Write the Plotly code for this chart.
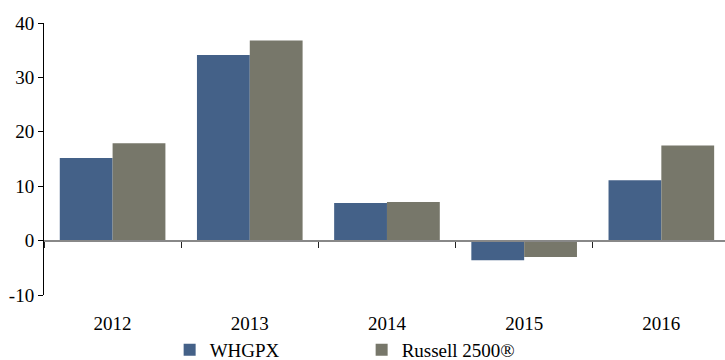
import plotly.graph_objects as go

years = ["2012", "2013", "2014", "2015", "2016"]
whgpx = [15.2, 34.1, 6.9, -3.6, 11.1]
russell = [17.9, 36.8, 7.1, -3.0, 17.5]
series_names = ["WHGPX", "Russell 2500®"]
y_ticks = [-10, 0, 10, 20, 30, 40]
y_tick_text = ["-10", "0", "10", "20", "30", "40"]

FONT = "Times New Roman, Liberation Serif, serif"
FS = 19

fig = go.Figure()
fig.add_trace(go.Bar(x=years, y=whgpx, name=series_names[0], marker_color="#446188",
                     marker_line_width=0))
fig.add_trace(go.Bar(x=years, y=russell, name=series_names[1], marker_color="#77776A",
                     marker_line_width=0))
# invisible helper trace so the zero-line axis (with boundary ticks) is drawn
fig.add_trace(go.Scatter(x=years, y=whgpx, xaxis="x2", mode="markers",
                         marker=dict(opacity=0), hoverinfo="skip", showlegend=False))

fig.update_layout(
    width=725, height=360,
    margin=dict(l=44, r=0, t=23, b=65, autoexpand=False),
    plot_bgcolor="white", paper_bgcolor="white",
    barmode="group", bargap=0.23, bargroupgap=0,
    font=dict(family=FONT, size=FS, color="black"),
    showlegend=True,
    legend=dict(orientation="h", x=0.1845, xanchor="left", y=-0.202, yanchor="middle",
                bgcolor="rgba(0,0,0,0)",
                font=dict(family=FONT, size=FS), entrywidth=147, entrywidthmode="pixels",
                itemwidth=30, traceorder="normal"),
    xaxis=dict(type="category", categoryarray=years, range=[-0.5, 4.464],
               showline=False, ticks="outside", ticklen=11, tickcolor="rgba(0,0,0,0)",
               showgrid=False, zeroline=False, tickfont=dict(family=FONT, size=FS)),
    xaxis2=dict(overlaying="x", anchor="free", position=0.2, type="category",
                categoryarray=years, range=[-0.5, 4.464], tickson="boundaries",
                ticks="outside", ticklen=6, tickcolor="#222", tickwidth=1,
                showticklabels=False, showline=True, linecolor="#888888", linewidth=2,
                showgrid=False, zeroline=False),
    yaxis=dict(range=[-10, 40], tickvals=y_ticks, ticktext=y_tick_text, ticks="outside",
               ticklen=5, tickcolor="black", showline=True, linecolor="black",
               linewidth=1, showgrid=False, zeroline=False,
               tickfont=dict(family=FONT, size=FS)),
)

fig.write_html("out.html")
